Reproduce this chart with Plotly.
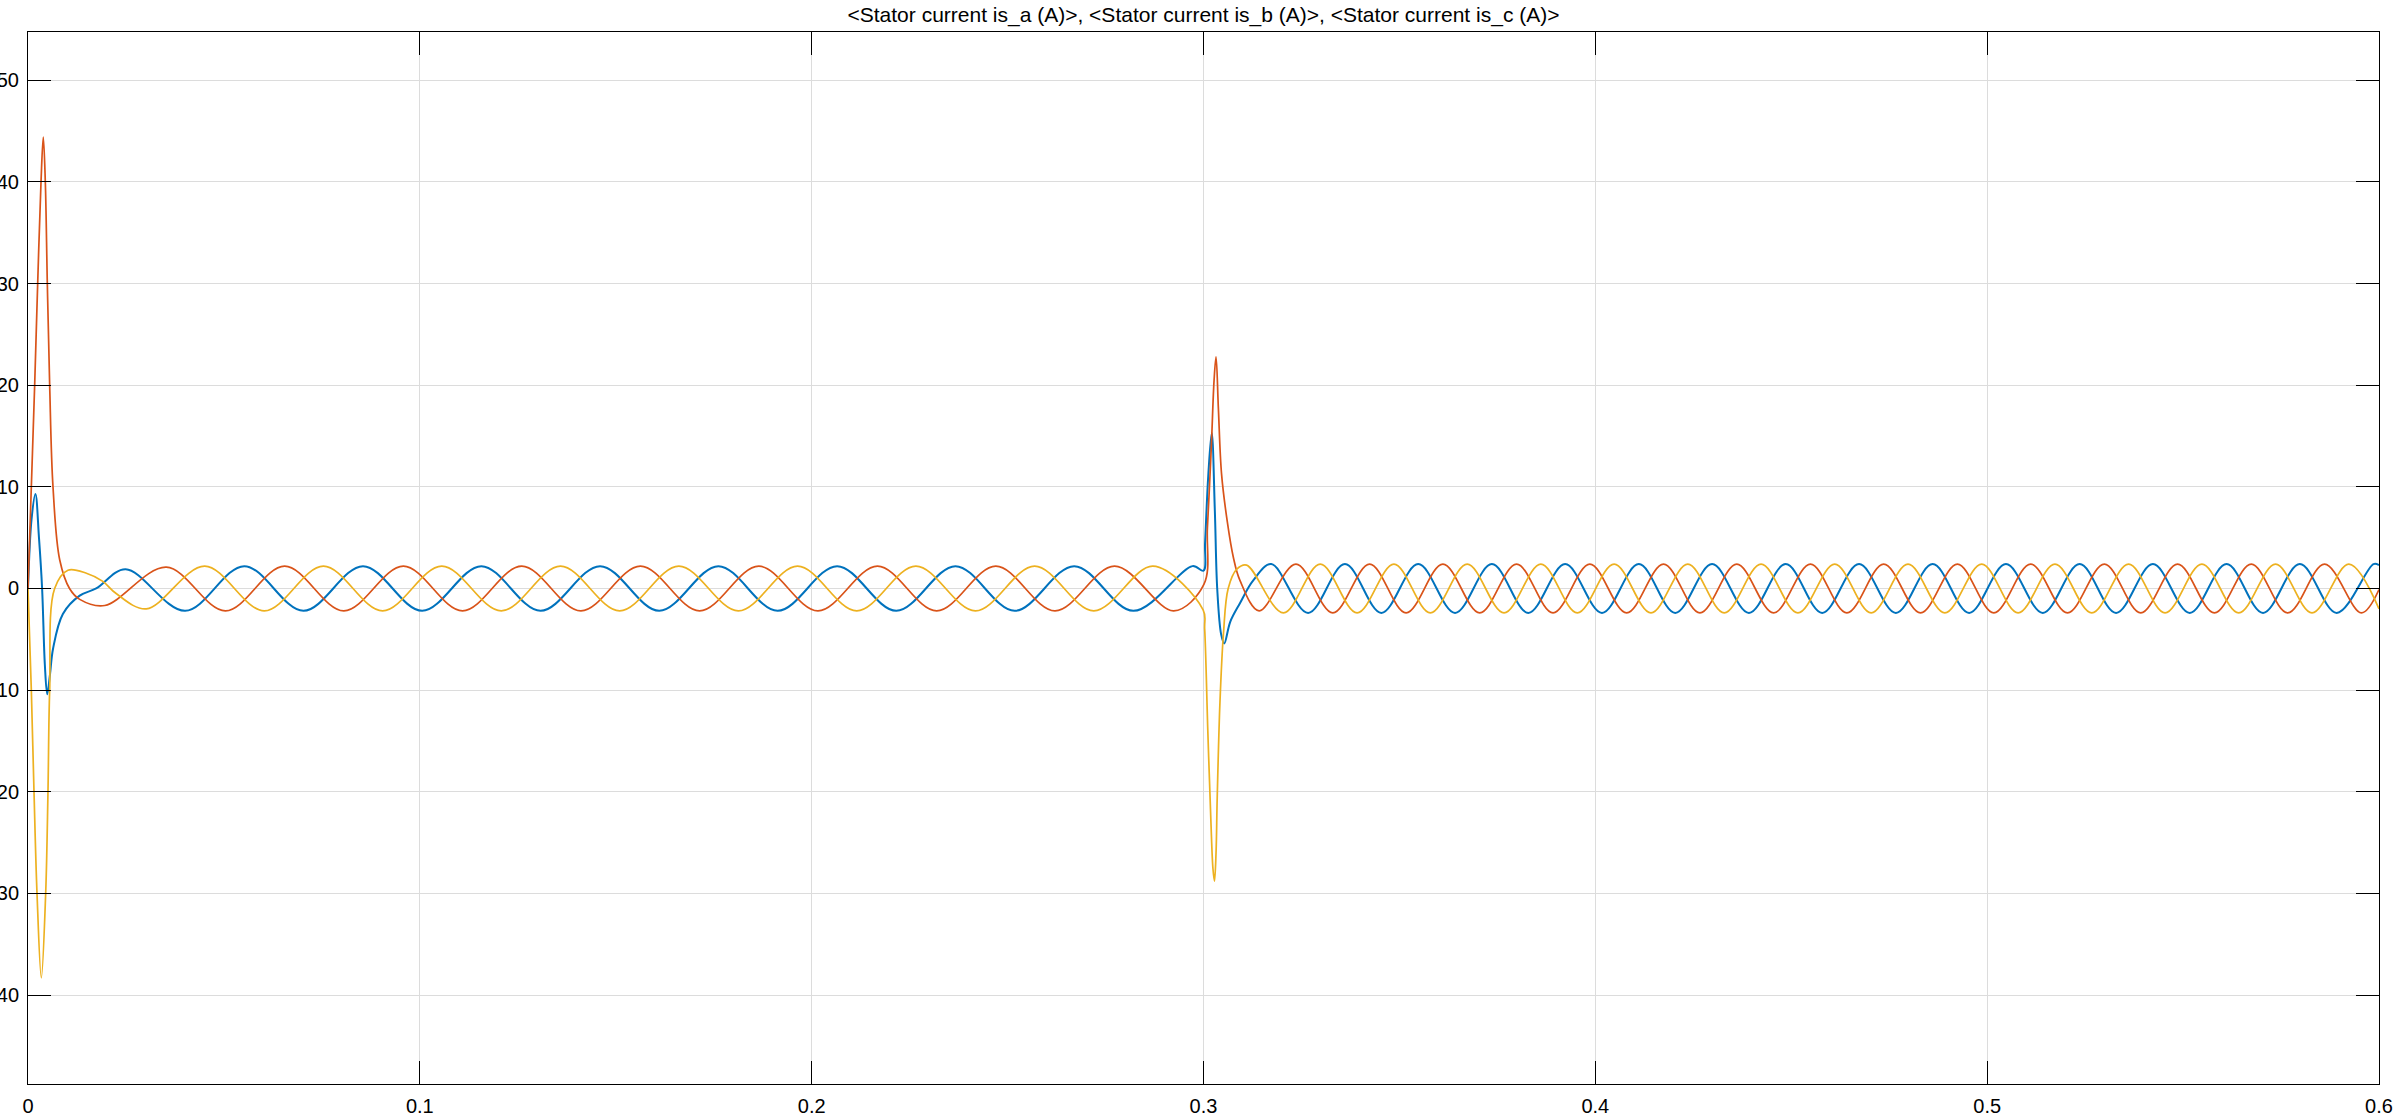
import plotly.graph_objects as go

# ---- Data (time in s, current in A) ----
# Phase a (blue)
t_a = [0.0, 0.0009, 0.0019, 0.0028, 0.0036, 0.0043, 0.0049, 0.0056, 0.0064, 0.0089, 0.0132, 0.0174,
       0.0249, 0.0401, 0.0552, 0.0703, 0.0855, 0.1006, 0.1157, 0.1308, 0.1460, 0.1611, 0.1762,
       0.1913, 0.2065, 0.2216, 0.2367, 0.2518, 0.2670, 0.2821, 0.2972,
       0.3000, 0.3004, 0.3012, 0.3021, 0.3029, 0.3035, 0.3045, 0.3053, 0.3068, 0.3093, 0.3127,
       0.3173, 0.3267, 0.3361, 0.3454, 0.3548, 0.3642, 0.3736, 0.3829, 0.3923, 0.4017, 0.4111,
       0.4204, 0.4298, 0.4392, 0.4486, 0.4579, 0.4673, 0.4767, 0.4861, 0.4954, 0.5048, 0.5142,
       0.5236, 0.5329, 0.5423, 0.5517, 0.5611, 0.5704, 0.5798, 0.5892, 0.5986, 0.6000]
i_a = [0.0, 6.8, 9.3, 5.0, 0.0, -7.5, -10.4, -8.5, -5.9, -2.5, -0.7, 0.0,
       1.9, -2.2, 2.2, -2.2, 2.2, -2.2, 2.2, -2.2, 2.2, -2.2, 2.2,
       -2.2, 2.2, -2.2, 2.2, -2.2, 2.2, -2.2, 2.2,
       1.75, 4.5, 11.0, 15.3, 7.6, 0.0, -4.5, -5.4, -3.3, -1.45, 0.8,
       2.4, -2.4, 2.4, -2.4, 2.4, -2.4, 2.4, -2.4, 2.4, -2.4, 2.4,
       -2.4, 2.4, -2.4, 2.4, -2.4, 2.4, -2.4, 2.4, -2.4, 2.4, -2.4,
       2.4, -2.4, 2.4, -2.4, 2.4, -2.4, 2.4, -2.4, 2.4, 2.3]

# Phase b (orange)
t_b = [0.0, 0.00085, 0.0017, 0.00247, 0.00332, 0.0039, 0.00442, 0.00493, 0.00553, 0.00638, 0.0081,
       0.0106, 0.0132, 0.0196,
       0.0353, 0.0504, 0.0655, 0.0806, 0.0958, 0.1109, 0.1260, 0.1411, 0.1563, 0.1714, 0.1865,
       0.2016, 0.2168, 0.2319, 0.2470, 0.2621, 0.2773, 0.2924,
       0.3001, 0.3010, 0.3020, 0.3027, 0.3032, 0.3038, 0.3046, 0.3061, 0.3076, 0.3093,
       0.3142, 0.3236, 0.3330, 0.3424, 0.3517, 0.3611, 0.3705, 0.3799, 0.3892, 0.3986, 0.4080,
       0.4174, 0.4267, 0.4361, 0.4455, 0.4549, 0.4642, 0.4736, 0.4830, 0.4924, 0.5017, 0.5111,
       0.5205, 0.5299, 0.5392, 0.5486, 0.5580, 0.5674, 0.5767, 0.5861, 0.5955, 0.6000]
i_b = [0.0, 10.0, 20.0, 30.0, 40.0, 44.4, 40.0, 30.0, 20.0, 10.0, 2.8,
       0.0, -1.07, -1.67,
       2.1, -2.2, 2.2, -2.2, 2.2, -2.2, 2.2, -2.2, 2.2, -2.2, 2.2,
       -2.2, 2.2, -2.2, 2.2, -2.2, 2.2, -2.2,
       0.4, 6.0, 14.0, 20.5, 22.8, 17.7, 11.3, 6.5, 3.1, 0.8,
       -2.2, 2.4, -2.4, 2.4, -2.4, 2.4, -2.4, 2.4, -2.4, 2.4, -2.4,
       2.4, -2.4, 2.4, -2.4, 2.4, -2.4, 2.4, -2.4, 2.4, -2.4, 2.4,
       -2.4, 2.4, -2.4, 2.4, -2.4, 2.4, -2.4, 2.4, -2.4, -0.1]

# Phase c (yellow)
t_c = [0.0, 0.00085, 0.00153, 0.0023, 0.0034, 0.00451, 0.0051, 0.00553, 0.0068, 0.0102, 0.0149,
       0.0191, 0.0225, 0.0302,
       0.0451, 0.0603, 0.0754, 0.0905, 0.1056, 0.1208, 0.1359, 0.1510, 0.1661, 0.1813, 0.1964,
       0.2115, 0.2266, 0.2418, 0.2569, 0.2720, 0.2871,
       0.2999, 0.3003, 0.3011, 0.3019, 0.3024, 0.3028, 0.3032, 0.3035, 0.3042, 0.3051, 0.3063,
       0.3085, 0.3110, 0.3204, 0.3298, 0.3392, 0.3486, 0.3579, 0.3673, 0.3767, 0.3861, 0.3954,
       0.4048, 0.4142, 0.4236, 0.4329, 0.4423, 0.4517, 0.4611, 0.4704, 0.4798, 0.4892, 0.4986,
       0.5079, 0.5173, 0.5267, 0.5361, 0.5454, 0.5548, 0.5642, 0.5736, 0.5829, 0.5923, 0.6000]
i_c = [0.0, -10.0, -20.0, -30.0, -38.3, -30.0, -20.0, -10.0, 0.0, 1.8, 1.5,
       0.7, -0.5, -2.0,
       2.2, -2.2, 2.2, -2.2, 2.2, -2.2, 2.2, -2.2, 2.2, -2.2, 2.2,
       -2.2, 2.2, -2.2, 2.2, -2.2, 2.2,
       -2.1, -4.0, -14.0, -23.0, -27.5, -28.8, -26.0, -20.6, -11.2, -4.4, 0.0,
       1.9, 2.3, -2.4, 2.4, -2.4, 2.4, -2.4, 2.4, -2.4, 2.4, -2.4,
       2.4, -2.4, 2.4, -2.4, 2.4, -2.4, 2.4, -2.4, 2.4, -2.4, 2.4,
       -2.4, 2.4, -2.4, 2.4, -2.4, 2.4, -2.4, 2.4, -2.4, 2.4, -2.0]

x_ticks = [0, 0.1, 0.2, 0.3, 0.4, 0.5, 0.6]
x_tick_labels = ["0", "0.1", "0.2", "0.3", "0.4", "0.5", "0.6"]
y_ticks = [-40, -30, -20, -10, 0, 10, 20, 30, 40, 50]
y_tick_labels = ["-40", "-30", "-20", "-10", "0", "10", "20", "30", "40", "50"]

title_text = "<Stator current is_a (A)>, <Stator current is_b (A)>, <Stator current is_c (A)>"

fig = go.Figure()
fig.add_trace(go.Scatter(x=t_a, y=i_a, mode="lines", name="is_a",
                         line=dict(color="#0072BD", width=2, shape="spline", smoothing=1)))
fig.add_trace(go.Scatter(x=t_b, y=i_b, mode="lines", name="is_b",
                         line=dict(color="#D95319", width=1.7, shape="spline", smoothing=1)))
fig.add_trace(go.Scatter(x=t_c, y=i_c, mode="lines", name="is_c",
                         line=dict(color="#EDB120", width=1.7, shape="spline", smoothing=1)))

axis_font = dict(family="Liberation Sans, Arial, sans-serif", size=20, color="#000000")

fig.update_layout(
    width=2400, height=1116,
    margin=dict(l=28, r=21, t=32, b=32, autoexpand=False),
    paper_bgcolor="white", plot_bgcolor="white",
    showlegend=False,
    title=dict(text=title_text, x=0.5, xref="paper", xanchor="center",
               y=1 - 15 / 1116, yref="container", yanchor="middle",
               font=dict(family="Liberation Sans, Arial, sans-serif", size=21, color="#000000")),
    xaxis=dict(range=[0, 0.6], tickvals=x_ticks, ticktext=x_tick_labels, automargin=False,
               showgrid=True, gridcolor="#dcdcdc", gridwidth=1, zeroline=False,
               showline=True, linecolor="#000000", linewidth=1, mirror="ticks",
               ticks="inside", ticklen=23, tickcolor="#000000", tickwidth=1,
               tickfont=axis_font, ticklabelstandoff=4),
    yaxis=dict(range=[-48.75, 54.75], tickvals=y_ticks, ticktext=y_tick_labels, automargin=False,
               showgrid=True, gridcolor="#dcdcdc", gridwidth=1, zeroline=False,
               showline=True, linecolor="#000000", linewidth=1, mirror="ticks",
               ticks="inside", ticklen=23, tickcolor="#000000", tickwidth=1,
               tickfont=axis_font, ticklabelstandoff=4),
)

fig.write_html("out.html",
               config={"displayModeBar": False},
               post_script="document.body.style.margin='0';document.body.style.overflow='hidden';")
